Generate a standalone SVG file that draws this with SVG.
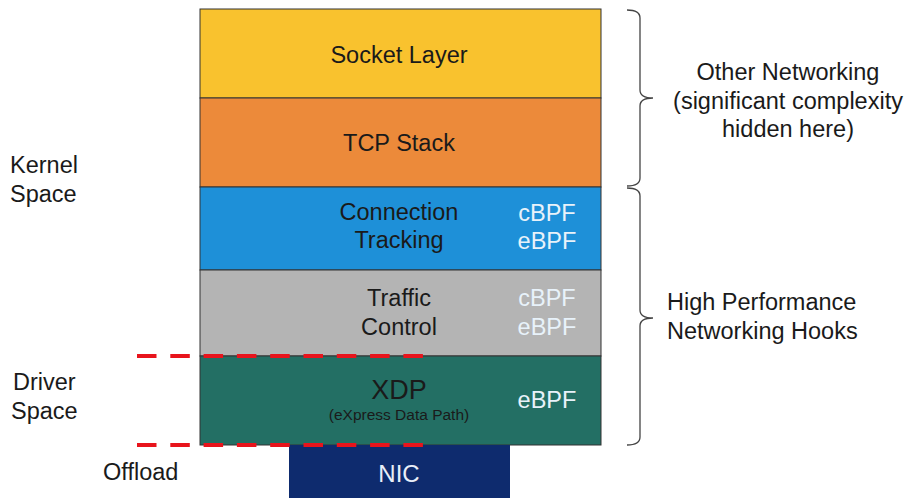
<svg xmlns="http://www.w3.org/2000/svg" width="907" height="498" viewBox="0 0 907 498">
  <style>
    .layer { stroke: #333; stroke-width: 1; }
    .lbl { font-family: "Liberation Sans", Arial, sans-serif; font-size: 23.5px; fill: #1a1a1a; text-anchor: middle; }
    .bpf { font-family: "Liberation Sans", Arial, sans-serif; font-size: 23.5px; fill: #e8f2fa; text-anchor: middle; }
    .side { font-family: "Liberation Sans", Arial, sans-serif; font-size: 23.5px; fill: #1a1a1a; }
    .brace { fill: none; stroke: #444; stroke-width: 1.3; }
    .dash { stroke: #e8141c; stroke-width: 4; stroke-dasharray: 19.5 13.8; }
  </style>
  <rect width="907" height="498" fill="#fff"/>

  <g id="socket-layer">
    <rect class="layer" x="200" y="9" width="401" height="89" fill="#f9c22e"/>
    <text class="lbl" x="399" y="63">Socket Layer</text>
  </g>
  <g id="tcp-stack">
    <rect class="layer" x="200" y="98" width="401" height="89" fill="#ec8a3a"/>
    <text class="lbl" x="399" y="151">TCP Stack</text>
  </g>
  <g id="connection-tracking">
    <rect class="layer" x="200" y="187" width="401" height="83" fill="#1e90d8"/>
    <text class="lbl" x="399" y="220">Connection</text>
    <text class="lbl" x="399" y="248">Tracking</text>
    <text class="bpf" x="547" y="221">cBPF</text>
    <text class="bpf" x="547" y="249">eBPF</text>
  </g>
  <g id="traffic-control">
    <rect class="layer" x="200" y="270" width="401" height="86" fill="#b4b4b4"/>
    <text class="lbl" x="399" y="306">Traffic</text>
    <text class="lbl" x="399" y="335">Control</text>
    <text class="bpf" x="547" y="306" fill="#f4f4f4">cBPF</text>
    <text class="bpf" x="547" y="335" fill="#f4f4f4">eBPF</text>
  </g>
  <g id="xdp">
    <rect class="layer" x="200" y="356" width="401" height="89" fill="#236f64"/>
    <text class="lbl" x="399" y="399" style="font-size:27px">XDP</text>
    <text class="lbl" x="399" y="420" style="font-size:15.5px">(eXpress Data Path)</text>
    <text class="bpf" x="547" y="408">eBPF</text>
  </g>
  <g id="nic">
    <rect x="289" y="445" width="221" height="53" fill="#0e2b6e"/>
    <text class="bpf" x="399" y="482" style="font-size:24px;fill:#e8eef8">NIC</text>
  </g>

  <g id="connectors">
    <line class="dash" x1="137" y1="356" x2="424" y2="356"/>
    <line class="dash" x1="137" y1="445" x2="424" y2="445"/>
    <path class="brace" d="M627 10 Q640 10 640 18 L640 90 Q640 98 653 98 Q640 98 640 106 L640 178 Q640 186 627 186"/>
    <path class="brace" d="M627 188 Q640 188 640 196 L640 310 Q640 318 653 318 Q640 318 640 326 L640 437 Q640 445 627 445"/>
  </g>

  <g id="labels">
    <text class="lbl" x="788" y="80">Other Networking</text>
    <text class="lbl" x="788" y="109">(significant complexity</text>
    <text class="lbl" x="788" y="137">hidden here)</text>
    <text class="side" x="667" y="310">High Performance</text>
    <text class="side" x="667" y="339">Networking Hooks</text>
    <text class="side" x="10" y="173">Kernel</text>
    <text class="side" x="10" y="202">Space</text>
    <text class="side" x="13" y="390">Driver</text>
    <text class="side" x="11" y="419">Space</text>
    <text class="side" x="103" y="480">Offload</text>
  </g>
</svg>
